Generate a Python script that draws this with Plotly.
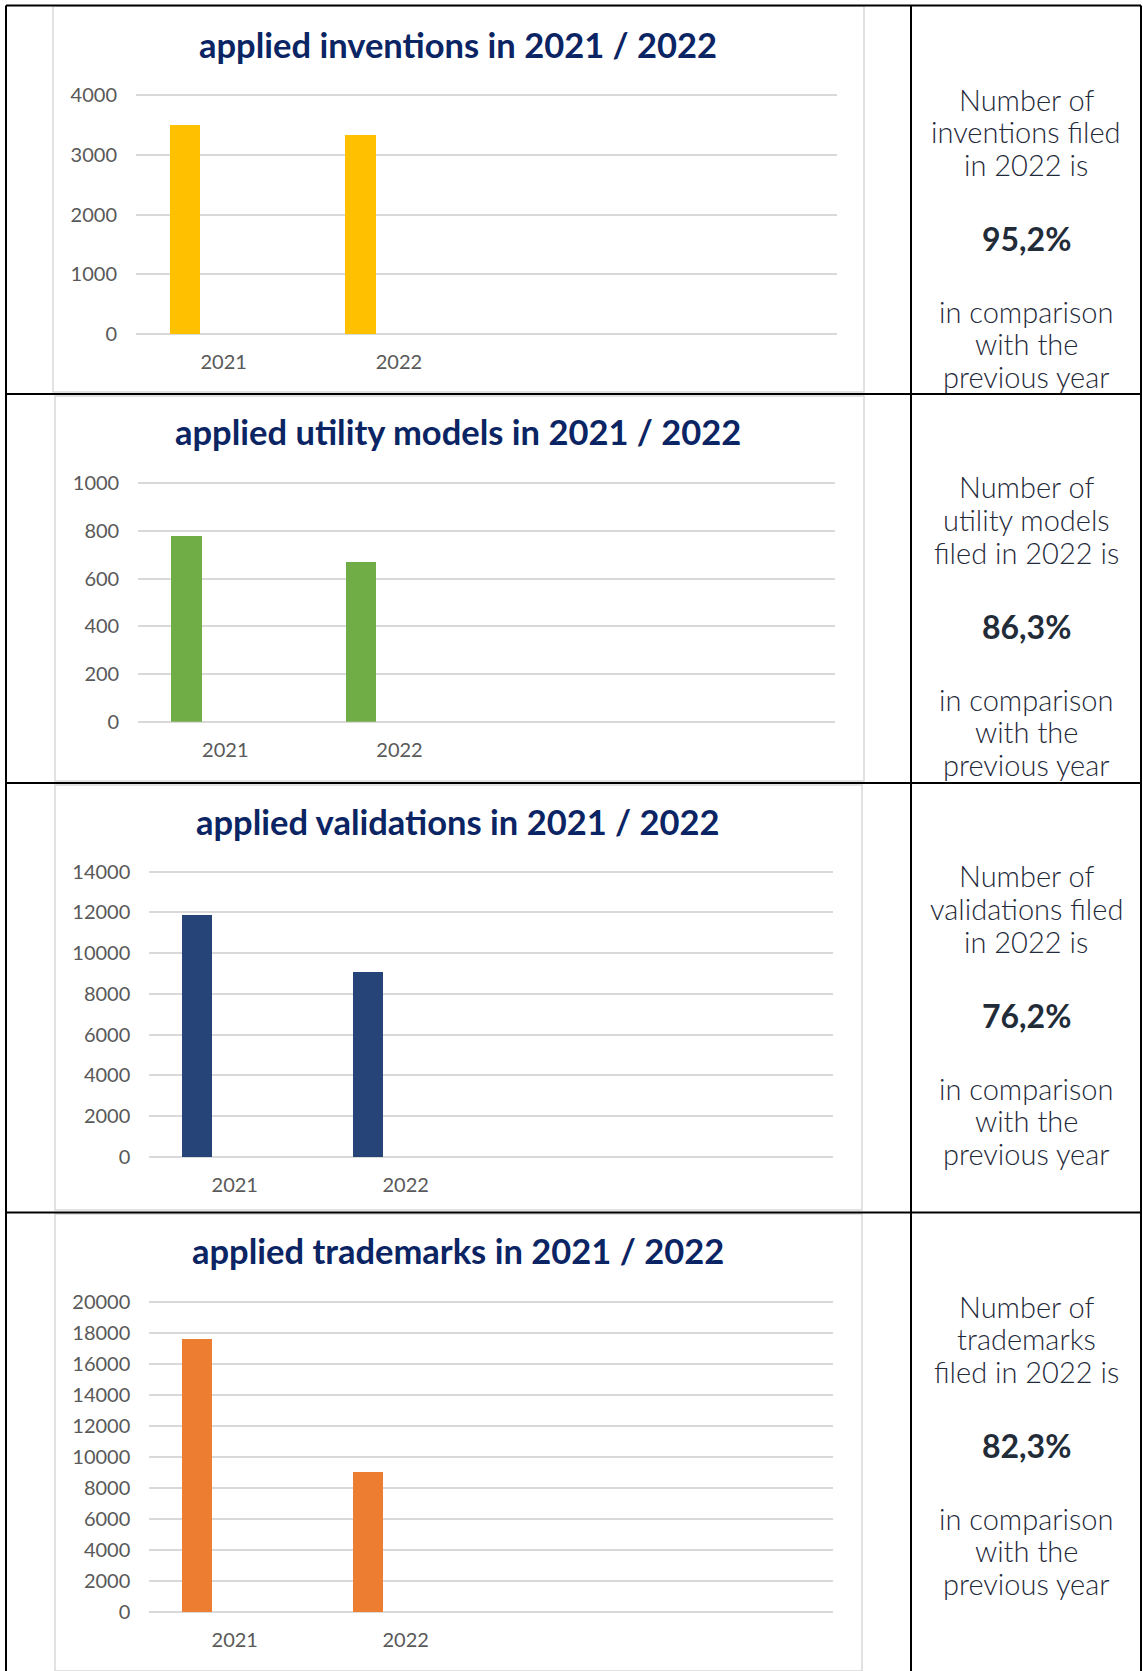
import plotly.graph_objects as go

W, H = 1143, 1671

# ---------------- data ----------------
years = ["2021", "2022"]
inventions = [3485, 3318]
utility_models = [779, 672]
validations = [11885, 9056]
trademarks = [17580, 9040]

titles = [
    "applied inventions in 2021 / 2022",
    "applied utility models in 2021 / 2022",
    "applied validations in 2021 / 2022",
    "applied trademarks in 2021 / 2022",
]
percentages = ["95,2%", "86,3%", "76,2%", "82,3%"]
head_lines = [
    ["Number of", "inventions filed", "in 2022 is"],
    ["Number of", "utility models", "filed in 2022 is"],
    ["Number of", "validations filed", "in 2022 is"],
    ["Number of", "trademarks", "filed in 2022 is"],
]
tail_lines = ["in comparison", "with the", "previous year"]
y_max = [4000, 1000, 14000, 20000]
y_step = [1000, 200, 2000, 2000]
bar_colors = ["#FFC000", "#70AD47", "#264478", "#ED7D31"]
series = [inventions, utility_models, validations, trademarks]

# ---------------- layout geometry (pixels) ----------------
plot_boxes = [  # x0, x1, ytop(max tick), ybottom(0)
    (136, 837, 94.7, 334.3),
    (138.2, 835, 483.3, 721.7),
    (149.3, 833, 871.7, 1157),
    (149.3, 833, 1301.7, 1612),
]
panels = [(53, 864, 6, 392), (55, 864, 396, 781), (55, 862, 785, 1210), (55, 862, 1214, 1671)]
title_y = [44, 432, 821.5, 1250.5]
title_x = 458
text_x = 1026
text_base = [99, 486.8, 875.6, 1306]
line_offsets = [0, 32.5, 65.5]
pct_offset = 139.5
tail_offsets = [212.5, 244.8, 277.5]
EXT = 1.006  # tiny range extension so the top gridline is kept


def px(x):
    return x / W


def py(y):
    return 1 - y / H


fig = go.Figure()
shapes = []
annotations = []

for (x0, x1, y0, y1) in panels:
    shapes.append(dict(type="rect", xref="paper", yref="paper",
                       x0=px(x0), x1=px(x1), y0=py(y1), y1=py(y0),
                       line=dict(color="#D9D9D9", width=1.5), fillcolor="white", layer="below"))

tbl_left, tbl_right, tbl_mid = 6, 1141, 911
for yy in [5.5, 394, 783, 1212.5]:
    shapes.append(dict(type="line", xref="paper", yref="paper",
                       x0=px(tbl_left), x1=px(tbl_right), y0=py(yy), y1=py(yy),
                       line=dict(color="black", width=2), layer="above"))
for xx in [tbl_left, tbl_mid, tbl_right]:
    shapes.append(dict(type="line", xref="paper", yref="paper",
                       x0=px(xx), x1=px(xx), y0=py(5.5), y1=py(H),
                       line=dict(color="black", width=2), layer="above"))

tick_font = dict(family="Lato", size=20, color="#595959")

for i in range(4):
    k = "" if i == 0 else str(i + 1)
    x0, x1, yt, yb = plot_boxes[i]
    ytop = yb - (yb - yt) * EXT
    fig.add_trace(go.Bar(
        x=years, y=series[i], marker=dict(color=bar_colors[i], line=dict(width=0)),
        width=0.175, offset=-0.308, xaxis="x" + k, yaxis="y" + k,
        showlegend=False, hoverinfo="skip"))
    fig.layout["xaxis" + k] = dict(
        domain=[px(x0), px(x1)], anchor="y" + k, type="category",
        range=[-0.5, 3.5], showgrid=False, zeroline=False, showline=False,
        ticks="", tickfont=tick_font, ticklabelstandoff=14, fixedrange=True,
        automargin=False)
    fig.layout["yaxis" + k] = dict(
        domain=[py(yb), py(ytop)], anchor="x" + k, range=[0, y_max[i] * EXT],
        dtick=y_step[i], tick0=0, showgrid=True, gridcolor="#D9D9D9", gridwidth=1.5,
        zeroline=True, zerolinecolor="#D9D9D9", zerolinewidth=1.5, showline=False,
        ticks="", tickfont=tick_font, ticklabelstandoff=18, tickformat="d",
        fixedrange=True, automargin=False)

    annotations.append(dict(text="<b>" + titles[i] + "</b>", xref="paper", yref="paper",
                            x=px(title_x), y=py(title_y[i]), xanchor="center", yanchor="middle",
                            showarrow=False,
                            font=dict(family="Lato", size=34.5, color="#0B2463")))
    base = text_base[i]
    for line, off in zip(head_lines[i], line_offsets):
        annotations.append(dict(text=line, xref="paper", yref="paper",
                                x=px(text_x), y=py(base + off), xanchor="center", yanchor="middle",
                                showarrow=False,
                                font=dict(family="Lato", size=29, color="#1F2A3A", weight=300)))
    annotations.append(dict(text="<b>" + percentages[i] + "</b>", xref="paper", yref="paper",
                            x=px(text_x), y=py(base + pct_offset), xanchor="center", yanchor="middle",
                            showarrow=False,
                            font=dict(family="Lato", size=32, color="#222B38")))
    for line, off in zip(tail_lines, tail_offsets):
        annotations.append(dict(text=line, xref="paper", yref="paper",
                                x=px(text_x), y=py(base + off), xanchor="center", yanchor="middle",
                                showarrow=False,
                                font=dict(family="Lato", size=29, color="#1F2A3A", weight=300)))

fig.update_layout(
    width=W, height=H, margin=dict(l=0, r=0, t=0, b=0, pad=0, autoexpand=False),
    paper_bgcolor="white", plot_bgcolor="rgba(0,0,0,0)",
    shapes=shapes, annotations=annotations, bargap=0,
)

fig.write_html("out.html", config={"displayModeBar": False},
               post_script="document.body.style.margin='0';document.body.style.overflow='hidden';")
